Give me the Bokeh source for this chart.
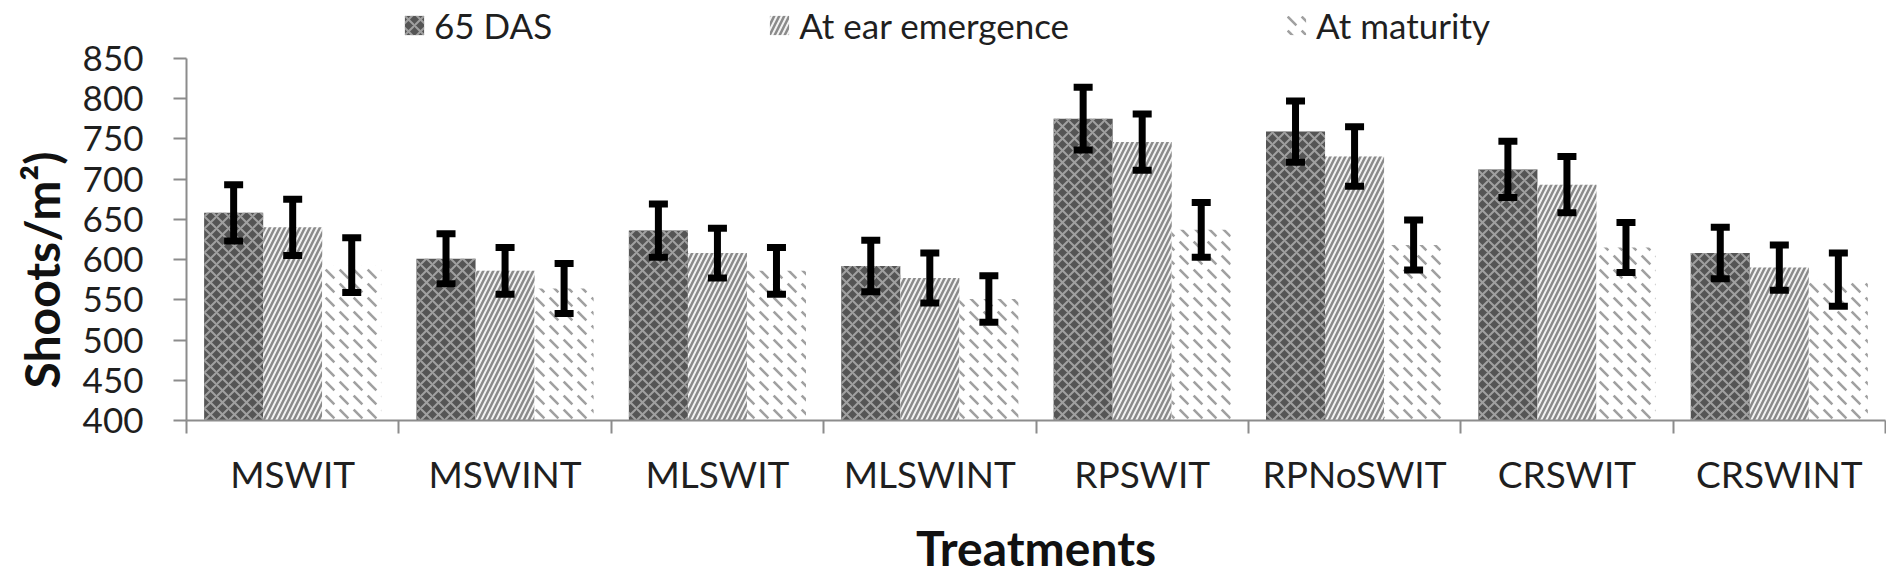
import numpy as np
from bokeh.plotting import figure
from bokeh.models import (ColumnDataSource, Range1d, FixedTicker, Legend, LegendItem,
                          Whisker, TeeHead, Title)
from bokeh.embed import file_html
from bokeh.resources import INLINE

# ---- data ----
categories = ["MSWIT", "MSWINT", "MLSWIT", "MLSWINT", "RPSWIT", "RPNoSWIT", "CRSWIT", "CRSWINT"]
series_names = ["65 DAS", "At ear emergence", "At maturity"]
das65 = [658, 601, 636, 592, 775, 759, 712, 608]
ear = [640, 586, 608, 577, 746, 728, 693, 590]
maturity = [593, 564, 586, 551, 637, 618, 615, 575]
err_das65 = [35, 31, 33, 32, 39, 38, 35, 32]
err_ear = [35, 29, 31, 31, 35, 37, 35, 28]
err_maturity = [34, 31, 29, 29, 34, 31, 31, 33]
y_ticks = [400, 450, 500, 550, 600, 650, 700, 750, 800, 850]

FONT = "Lato"
TXT = "#1f1f1f"
AXC = "#8c8c8c"

H = 578
BOTTOM = 157
AXIS_TOP_PX = 58          # pixel distance from canvas top to the 850 tick
frame_h = H - BOTTOM
y_lo, y_hi = y_ticks[0], y_ticks[-1]
y_top = y_hi + (y_hi - y_lo) * AXIS_TOP_PX / (frame_h - AXIS_TOP_PX)

n = len(categories)
centers = np.arange(n) + 0.5
bounds = list(np.arange(n + 1).astype(float))
bw = 0.278

p = figure(width=1886, height=H, output_backend="svg", toolbar_location=None,
           title=None, x_range=Range1d(0, n), y_range=Range1d(y_lo, y_top),
           min_border_left=182, min_border_right=1, min_border_top=0, min_border_bottom=BOTTOM)
p.outline_line_color = None
p.xgrid.visible = False
p.ygrid.visible = False
p.background_fill_color = "white"

styles = [
    dict(fill_color="#555555", hatch_pattern="diagonal_cross", hatch_color="#a0a0a0",
         hatch_scale=12, hatch_weight=2),
    dict(fill_color="#f2f2f2", hatch_pattern="right_diagonal_line", hatch_color="#8a8a8a",
         hatch_scale=10, hatch_weight=2.5),
    dict(fill_color="#ffffff", hatch_pattern="left_diagonal_dash", hatch_color="#a0a0a0",
         hatch_scale=14, hatch_weight=2.5),
]
vals = [das65, ear, maturity]
errs = [err_das65, err_ear, err_maturity]
offsets = [-bw, 0.0, bw]

items = []
for k in range(3):
    v = np.array(vals[k], dtype=float)
    e = np.array(errs[k], dtype=float)
    src = ColumnDataSource(dict(x=centers + offsets[k], top=v, upper=v + e, lower=v - e))
    r = p.vbar(x="x", top="top", bottom=y_lo, width=bw, source=src, line_color=None, **styles[k])
    w = Whisker(base="x", upper="upper", lower="lower", source=src, level="annotation",
                line_color="black", line_width=7,
                upper_head=TeeHead(size=19, line_width=7, line_color="black"),
                lower_head=TeeHead(size=19, line_width=7, line_color="black"))
    p.add_layout(w)
    items.append(LegendItem(label=series_names[k], renderers=[r]))

legend = Legend(items=items, location=(216, frame_h - 47), orientation="horizontal",
                spacing=215, glyph_width=24, glyph_height=24, label_standoff=8,
                padding=0, margin=0, border_line_color=None, background_fill_alpha=0,
                label_text_font=FONT, label_text_font_size="35px", label_text_color=TXT)
p.add_layout(legend)

# x axis: labels at centres, tick marks at category boundaries
xa = p.xaxis[0]
xa.ticker = FixedTicker(ticks=list(centers), minor_ticks=bounds)
xa.major_label_overrides = {float(c): categories[i] for i, c in enumerate(centers)}
xa.major_tick_line_color = None
xa.major_tick_out = 0
xa.major_tick_in = 0
xa.minor_tick_out = 13
xa.minor_tick_in = 0
xa.minor_tick_line_color = AXC
xa.minor_tick_line_width = 2
xa.axis_line_color = AXC
xa.axis_line_width = 2
xa.major_label_text_font = FONT
xa.major_label_text_font_size = "37px"
xa.major_label_text_color = TXT
xa.major_label_standoff = 17
xa.axis_label = "Treatments"
xa.axis_label_text_font = FONT
xa.axis_label_text_font_style = "bold"
xa.axis_label_text_font_size = "48px"
xa.axis_label_text_color = "#111111"
xa.axis_label_standoff = 20

ya = p.yaxis[0]
ya.ticker = FixedTicker(ticks=y_ticks)
ya.bounds = (y_lo, y_hi)
ya.major_tick_out = 13
ya.major_tick_in = 0
ya.major_tick_line_color = AXC
ya.major_tick_line_width = 2
ya.minor_tick_line_color = None
ya.axis_line_color = AXC
ya.axis_line_width = 2
ya.major_label_text_font = FONT
ya.major_label_text_font_size = "35px"
ya.major_label_text_color = TXT
ya.major_label_standoff = 30

ytitle = Title(text="Shoots/m²)", align="left", offset=32, standoff=20,
               text_font=FONT, text_font_style="bold", text_font_size="48px",
               text_color="#111111")
p.add_layout(ytitle, "left")

open("out.html", "w").write(file_html(p, INLINE))
